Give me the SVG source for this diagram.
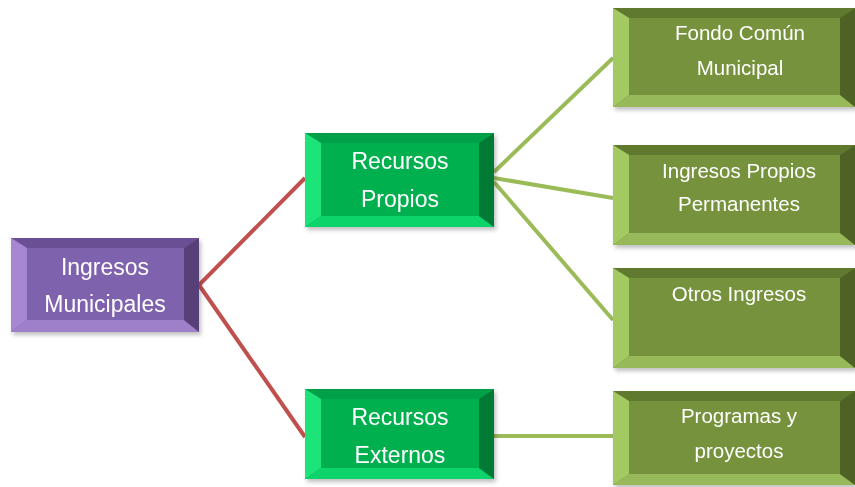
<svg xmlns="http://www.w3.org/2000/svg" width="855" height="487" viewBox="0 0 855 487">
<defs>
<filter id="sh" x="-10%" y="-10%" width="125%" height="130%">
<feDropShadow dx="2" dy="3" stdDeviation="2" flood-color="#000" flood-opacity="0.25"/>
</filter>
</defs>
<style>
text{font-family:"Liberation Sans",Arial,sans-serif;fill:#fff;text-anchor:middle}
.big{font-size:23px}
.sm{font-size:20.5px}
.red{stroke:#c0504d;stroke-width:4;fill:none}
.grn{stroke:#9bbb59;stroke-width:4;fill:none}
.pm{fill:#7f62ad}.pt{fill:#6b5094}.pl{fill:#a787d4}.pb{fill:#9d7fca}.pr{fill:#574177}
.gm{fill:#00b050}.gt{fill:#04a04a}.gl{fill:#1ce478}.gb{fill:#0ad46a}.gr{fill:#007a36}
.om{fill:#76923c}.ot{fill:#5f7a2e}.ol{fill:#a3c964}.ob{fill:#98b95a}.or{fill:#4f6228}
</style>
<g id="connectors">
<line class="red" x1="199" y1="285" x2="305" y2="178"/>
<line class="red" x1="199" y1="285" x2="305" y2="437"/>
<line class="grn" x1="494" y1="172" x2="613" y2="58"/>
<line class="grn" x1="494" y1="178" x2="613" y2="198"/>
<line class="grn" x1="494" y1="182" x2="613" y2="320"/>
<line class="grn" x1="494" y1="436" x2="613" y2="436"/>
</g>
<g id="ingresos-municipales" filter="url(#sh)">
<rect class="pm" x="11" y="238" width="188" height="94"/>
<polygon class="pt" points="11,238 199,238 184,248 27,248"/>
<polygon class="pl" points="11,238 27,248 27,320 11,332"/>
<polygon class="pb" points="11,332 27,320 184,320 199,332"/>
<polygon class="pr" points="199,238 199,332 184,320 184,248"/>
<text class="big" x="105" y="275">Ingresos</text>
<text class="big" x="105" y="312">Municipales</text>
</g>
<g id="recursos-propios" filter="url(#sh)">
<rect class="gm" x="305" y="133" width="189" height="94"/>
<polygon class="gt" points="305,133 494,133 479,143 321,143"/>
<polygon class="gl" points="305,133 321,143 321,216 305,227"/>
<polygon class="gb" points="305,227 321,216 479,216 494,227"/>
<polygon class="gr" points="494,133 494,227 479,216 479,143"/>
<text class="big" x="400" y="169">Recursos</text>
<text class="big" x="400" y="207">Propios</text>
</g>
<g id="recursos-externos" filter="url(#sh)">
<rect class="gm" x="305" y="389" width="189" height="90"/>
<polygon class="gt" points="305,389 494,389 479,399 321,399"/>
<polygon class="gl" points="305,389 321,399 321,468 305,479"/>
<polygon class="gb" points="305,479 321,468 479,468 494,479"/>
<polygon class="gr" points="494,389 494,479 479,468 479,399"/>
<text class="big" x="400" y="425">Recursos</text>
<text class="big" x="400" y="463">Externos</text>
</g>
<g id="fondo-comun" filter="url(#sh)">
<rect class="om" x="613" y="8" width="242" height="99"/>
<polygon class="ot" points="613,8 855,8 840,18 629,18"/>
<polygon class="ol" points="613,8 629,18 629,95 613,107"/>
<polygon class="ob" points="613,107 629,95 840,95 855,107"/>
<polygon class="or" points="855,8 855,107 840,95 840,18"/>
<text class="sm" x="740" y="40">Fondo Común</text>
<text class="sm" x="740" y="75">Municipal</text>
</g>
<g id="ingresos-propios-permanentes" filter="url(#sh)">
<rect class="om" x="613" y="145" width="242" height="100"/>
<polygon class="ot" points="613,145 855,145 840,155 629,155"/>
<polygon class="ol" points="613,145 629,155 629,233 613,245"/>
<polygon class="ob" points="613,245 629,233 840,233 855,245"/>
<polygon class="or" points="855,145 855,245 840,233 840,155"/>
<text class="sm" x="739" y="178">Ingresos Propios</text>
<text class="sm" x="739" y="211">Permanentes</text>
</g>
<g id="otros-ingresos" filter="url(#sh)">
<rect class="om" x="613" y="268" width="242" height="100"/>
<polygon class="ot" points="613,268 855,268 840,278 629,278"/>
<polygon class="ol" points="613,268 629,278 629,356 613,368"/>
<polygon class="ob" points="613,368 629,356 840,356 855,368"/>
<polygon class="or" points="855,268 855,368 840,356 840,278"/>
<text class="sm" x="739" y="301">Otros Ingresos</text>
</g>
<g id="programas-proyectos" filter="url(#sh)">
<rect class="om" x="613" y="391" width="242" height="94"/>
<polygon class="ot" points="613,391 855,391 840,401 629,401"/>
<polygon class="ol" points="613,391 629,401 629,474 613,485"/>
<polygon class="ob" points="613,485 629,474 840,474 855,485"/>
<polygon class="or" points="855,391 855,485 840,474 840,401"/>
<text class="sm" x="739" y="423">Programas y</text>
<text class="sm" x="739" y="458">proyectos</text>
</g>
</svg>
